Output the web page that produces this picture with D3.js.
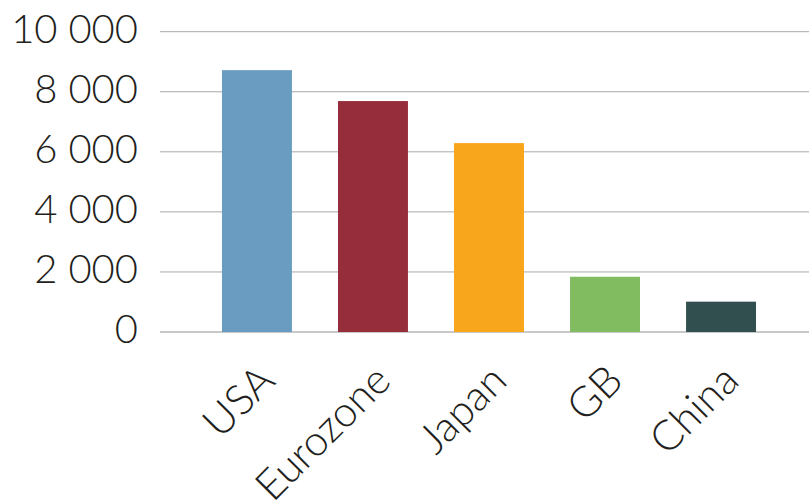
<!DOCTYPE html>
<html>
<head>
<meta charset="utf-8">
<script src="https://cdn.jsdelivr.net/npm/d3@7"></script>
<style>
	body { margin: 0; background: #fff; }
	text { font-family: Lato, "Open Sans", sans-serif; font-weight: 300; fill: #231f20; }
</style>
</head>
<body>
<svg id="chart" width="809" height="500"></svg>
<script>
const categories = ['USA', 'Eurozone', 'Japan', 'GB', 'China']
const values = [8720, 7690, 6290, 1840, 1010]
const yTicks = [0, 2000, 4000, 6000, 8000, 10000]
const colors = ['#6a9bc1', '#952d3b', '#f8a61c', '#82bc60', '#314f4e']

const svg = d3.select('#chart')
const gridLeft = 160
const gridRight = 809

const xScale = d3.scaleBand().domain(categories).range([199, 779])
	.paddingInner(0.397).paddingOuter(0.198)
const yScale = d3.scaleLinear().domain([0, 10000]).range([332, 31.7])

const fmt = d => d3.format(',')(d).replace(/,/g, ' ')

// gridlines
svg.append('g').selectAll('line').data(yTicks)
	.enter().append('line')
	.attr('x1', gridLeft).attr('x2', gridRight)
	.attr('y1', d => yScale(d)).attr('y2', d => yScale(d))
	.style('stroke', d => d === 0 ? '#c8c8c8' : '#a9a9a9')
	.style('stroke-width', d => d === 0 ? 2 : 1)

// y tick labels
svg.append('g').selectAll('text').data(yTicks)
	.enter().append('text')
	.attr('x', 138).attr('y', d => yScale(d)).attr('dy', '0.28em')
	.style('text-anchor', 'end').style('font-size', '40px')
	.text(fmt)

// bars
svg.append('g').selectAll('rect').data(values)
	.enter().append('rect')
	.attr('x', (d, i) => xScale(categories[i]))
	.attr('width', xScale.bandwidth())
	.attr('y', d => yScale(d))
	.attr('height', d => yScale(0) - yScale(d))
	.style('fill', (d, i) => colors[i])

// category labels
const xAxis = svg.append('g')
	.attr('transform', `translate(0, ${yScale(0)})`)
	.call(d3.axisBottom(xScale).tickSize(0).tickPadding(0))
xAxis.select('.domain').remove()
xAxis.selectAll('text')
	.attr('y', 0).attr('dy', 0)
	.attr('transform', 'translate(20, 51) rotate(-45)')
	.style('text-anchor', 'end').style('font-size', '42px')
	.style('font-family', 'Lato, "Open Sans", sans-serif')
	.style('fill', '#231f20')
</script>
</body>
</html>
